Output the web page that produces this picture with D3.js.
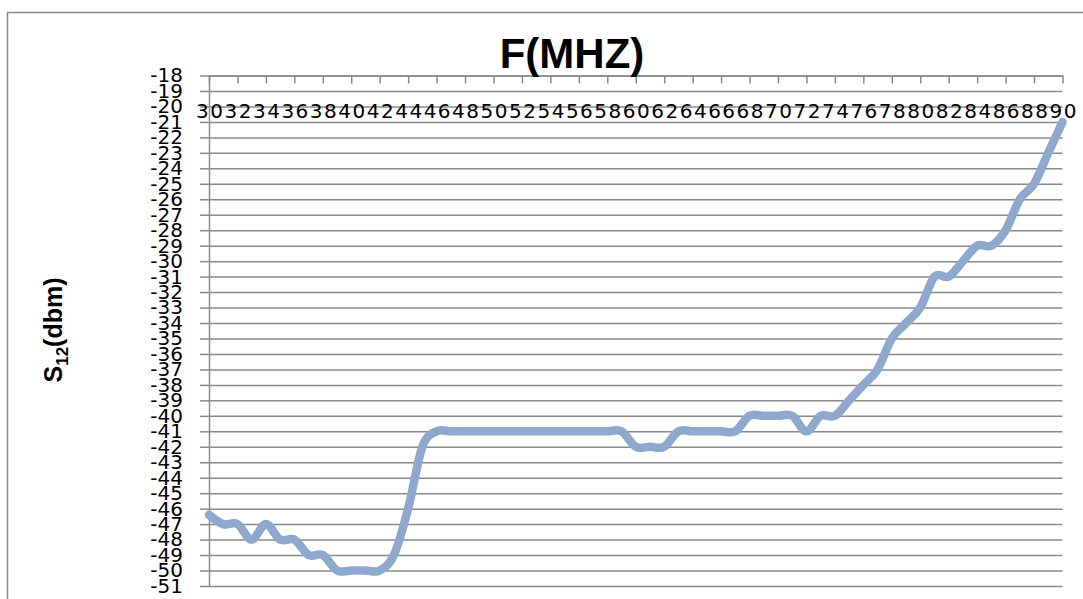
<!DOCTYPE html>
<html>
<head>
<meta charset="utf-8">
<script src="https://cdn.jsdelivr.net/npm/d3@7"></script>
<style>
  body { margin: 0; background: #fff; }
  .tick-label { font-family: "DejaVu Sans", sans-serif; font-size: 20px; fill: #000; }
  .chart-title { font-family: "Liberation Sans", Arial, sans-serif; font-weight: bold; font-size: 42px; }
  .axis-label { font-family: "Liberation Sans", Arial, sans-serif; font-weight: bold; font-size: 25px; }
</style>
</head>
<body>
<svg class="s12-chart"></svg>
<script>
// frequency in MHz, one point per MHz
var freqs = [30, 31, 32, 33, 34, 35, 36, 37, 38, 39, 40, 41, 42, 43, 44, 45, 46, 47, 48, 49,
             50, 51, 52, 53, 54, 55, 56, 57, 58, 59, 60, 61, 62, 63, 64, 65, 66, 67, 68, 69,
             70, 71, 72, 73, 74, 75, 76, 77, 78, 79, 80, 81, 82, 83, 84, 85, 86, 87, 88, 89, 90];

// S12 in dbm
var s12 = [-46.4, -47, -47, -48, -47, -48, -48, -49, -49, -50, -50, -50, -50, -49, -46, -42, -41,
           -41, -41, -41, -41, -41, -41, -41, -41, -41, -41, -41, -41, -41,
           -42, -42, -42, -41, -41, -41, -41, -41, -40, -40, -40, -40, -41, -40, -40,
           -39, -38, -37, -35, -34, -33, -31, -31, -30, -29, -29, -28, -26, -25, -23, -21];

var xTicks = [30, 32, 34, 36, 38, 40, 42, 44, 46, 48, 50, 52, 54, 56, 58, 60,
              62, 64, 66, 68, 70, 72, 74, 76, 78, 80, 82, 84, 86, 88, 90];
var yTicks = [-18, -19, -20, -21, -22, -23, -24, -25, -26, -27, -28, -29, -30, -31, -32, -33, -34,
              -35, -36, -37, -38, -39, -40, -41, -42, -43, -44, -45, -46, -47, -48, -49, -50, -51];

drawChart();

function drawChart() {
  var W = 1083, H = 599;
  var left = 209, right = 1062.5, top = 75.5, bottom = 586;

  var svg = d3.select(".s12-chart").attr("width", W).attr("height", H);

  // outer chart frame
  svg.append("rect")
    .attr("x", 7.5).attr("y", 12.5)
    .attr("width", 1200).attr("height", 700)
    .attr("fill", "none").attr("stroke", "#8a8a8a").attr("stroke-width", 1.5);

  var x = d3.scaleLinear().domain([30, 90]).range([left, right]);
  var y = d3.scaleLinear().domain([-51, -18]).range([bottom, top]);

  // horizontal gridlines
  svg.append("g")
    .attr("transform", "translate(" + left + ",0)")
    .call(d3.axisRight(y).tickValues(yTicks).tickSize(right - left).tickFormat(""))
    .call(function(g) {
      g.select(".domain").remove();
      g.selectAll("line").attr("stroke", "#8a8a8a").attr("stroke-width", 1.5);
    });

  // y axis
  svg.append("g")
    .attr("transform", "translate(" + left + ",0)")
    .call(d3.axisLeft(y).tickValues(yTicks).tickSize(9).tickSizeOuter(0).tickPadding(17))
    .call(function(g) {
      g.select(".domain").attr("stroke", "#8a8a8a").attr("stroke-width", 1.5);
      g.selectAll("line").attr("stroke", "#8a8a8a").attr("stroke-width", 1.5);
      g.selectAll("text").attr("class", "tick-label").attr("font-size", null).attr("font-family", null)
        .text(function(d) { return "-" + Math.abs(d); });
    });

  // x axis along the top
  svg.append("g")
    .attr("transform", "translate(0," + top + ")")
    .call(d3.axisBottom(x).tickValues(xTicks).tickSize(8).tickSizeOuter(0).tickPadding(20))
    .call(function(g) {
      g.select(".domain").attr("stroke", "#8a8a8a").attr("stroke-width", 1.5);
      g.selectAll("line").attr("stroke", "#8a8a8a").attr("stroke-width", 1.5);
      g.selectAll("text").attr("class", "tick-label").attr("font-size", null).attr("font-family", null)
        .attr("letter-spacing", "1.5px").attr("dx", "0.75px");
    });

  var valueline = d3.line()
    .x(function(d, i) { return x(freqs[i]); })
    .y(function(d) { return y(d); })
    .curve(d3.curveCardinal.tension(0));

  svg.append("path")
    .datum(s12)
    .attr("d", valueline)
    .attr("fill", "none")
    .attr("stroke", "#8EA8CE")
    .attr("stroke-width", 8.5)
    .attr("stroke-linejoin", "round")
    .attr("stroke-linecap", "round");

  svg.append("text")
    .attr("class", "chart-title")
    .attr("x", 572).attr("y", 68)
    .attr("text-anchor", "middle")
    .text("F(MHZ)");

  var yl = svg.append("text")
    .attr("class", "axis-label")
    .attr("transform", "translate(62,330) rotate(-90)")
    .attr("text-anchor", "middle");
  yl.append("tspan").text("S");
  yl.append("tspan").attr("font-size", "17px").attr("dy", 6).text("12");
  yl.append("tspan").attr("dy", -6).text("(dbm)");
}
</script>
</body>
</html>
